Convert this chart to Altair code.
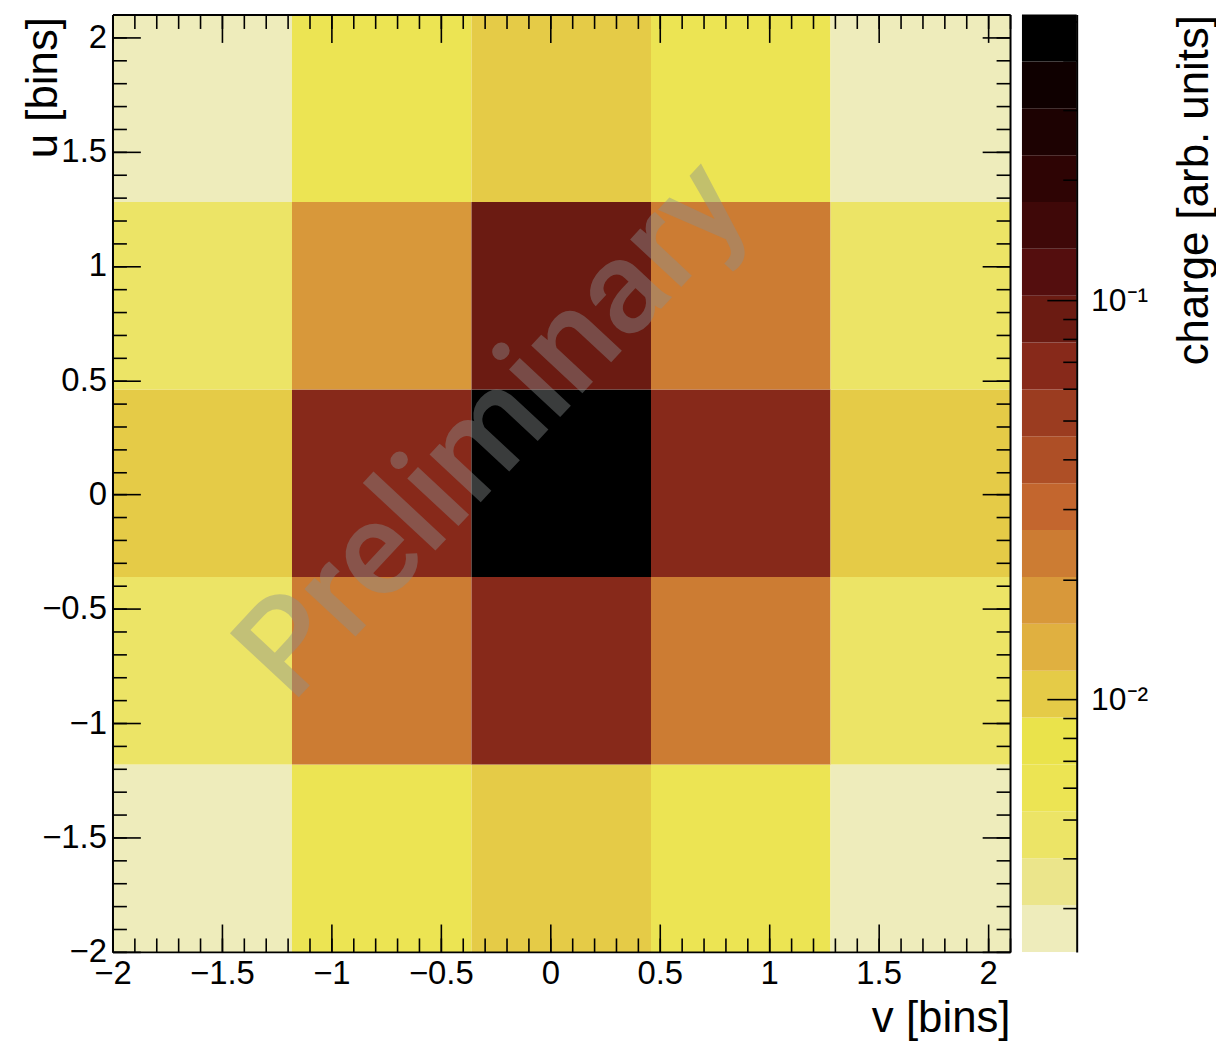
import altair as alt
import numpy as np
import pandas as pd

# ---------------- data ----------------
v_edges = [-2.0, -1.18, -0.36, 0.46, 1.28, 2.1]
u_edges = [-2.0, -1.18, -0.36, 0.46, 1.28, 2.1]
# charge[row][col]: rows = u bins (low -> high), cols = v bins (low -> high)
charge_rows = [
    [0.00267, 0.0060, 0.0103, 0.0060, 0.00267],
    [0.00458, 0.0232, 0.0686, 0.0232, 0.00458],
    [0.0103, 0.0686, 0.456, 0.0686, 0.0103],
    [0.00458, 0.0177, 0.090, 0.0232, 0.00458],
    [0.00267, 0.0060, 0.0103, 0.0060, 0.00267],
]
x_major = [-2, -1.5, -1, -0.5, 0, 0.5, 1, 1.5, 2]
x_minor = [round(-2.0 + 0.1 * i, 1) for i in range(42)]
y_major = [-2, -1.5, -1, -0.5, 0, 0.5, 1, 1.5, 2]
y_minor = [round(-2.0 + 0.1 * i, 1) for i in range(42)]
z_min, z_max, n_contours = 0.00233, 0.52, 20
z_major = [0.01, 0.1]
z_minor = [0.003, 0.004, 0.005, 0.006, 0.007, 0.008, 0.009,
           0.02, 0.03, 0.04, 0.05, 0.06, 0.07, 0.08, 0.09,
           0.2, 0.3, 0.4, 0.5]
wm_text = ["Preliminary"]
wm_v = [-0.127]
wm_u = [0.163]

palette = ["#eeecbb", "#ebe58b", "#ece466", "#ece453", "#eae34b",
           "#e5cb47", "#e0b040", "#d8983a", "#cc7c33", "#c3662e",
           "#ae4f26", "#9b3c20", "#87291a", "#6b1b12", "#540e0e",
           "#3f0808", "#2e0404", "#1d0202", "#0f0000", "#000000"]

# ---------------- tables ----------------
rows = []
for i in range(5):
    for j in range(5):
        rows.append(dict(v_lo=v_edges[j], v_hi=v_edges[j + 1],
                         u_lo=u_edges[i], u_hi=u_edges[i + 1],
                         charge=charge_rows[i][j]))
df = pd.DataFrame(rows)

lmin, lmax = np.log10(z_min), np.log10(z_max)
step = (lmax - lmin) / n_contours
levels = [float(10 ** (lmin + step * k)) for k in range(n_contours + 1)]
bands = pd.DataFrame(dict(lo=levels[:-1], hi=levels[1:],
                          charge=[float(10 ** (lmin + step * (k + 0.5))) for k in range(n_contours)],
                          b0=[0] * n_contours, b1=[1] * n_contours))
wm = pd.DataFrame(dict(text=wm_text, v=wm_v, u=wm_u))

# ---------------- styling ----------------
FONT = "Liberation Sans"
W, H, CW = 902, 942, 55

xs = alt.Scale(domain=[-2.0, 2.1], nice=False, zero=False)
ys = alt.Scale(domain=[-2.0, 2.1], nice=False, zero=False)
zs = alt.Scale(type="log", domain=[z_min, z_max], nice=False)
bs = alt.Scale(domain=[0, 1], nice=False, zero=False)
cs = alt.Scale(type="threshold", domain=levels[1:-1], range=palette)


def tick_axis(orient, offset, values, size, domain=False):
    return alt.Axis(orient=orient, offset=offset, values=values, tickSize=size,
                    labels=False, title=None, grid=False, domain=domain,
                    ticks=True, tickColor="black", tickWidth=1.6,
                    domainColor="black", domainWidth=2, zindex=3)


# main heatmap
heat = alt.Chart(df).mark_rect().encode(
    x=alt.X("v_lo:Q", scale=xs, axis=alt.Axis(
        orient="bottom", values=x_major, format="~g", labelFont=FONT,
        labelFontSize=33, labelColor="black", labelPadding=6,
        labelFlush=False, labelOverlap=False, ticks=False, tickSize=0,
        domain=True, domainColor="black", domainWidth=2, grid=False,
        title="v [bins]", titleFont=FONT, titleFontSize=44,
        titleFontWeight="normal", titleColor="black", titleAlign="right",
        titleAnchor="end", titleX=W, titleY=80, titleBaseline="alphabetic",
        zindex=3)),
    x2="v_hi:Q",
    y=alt.Y("u_lo:Q", scale=ys, axis=alt.Axis(
        orient="left", values=y_major, format="~g", labelFont=FONT,
        labelFontSize=33, labelColor="black", labelPadding=6,
        labelFlush=False, labelOverlap=False, ticks=False, tickSize=0,
        domain=True, domainColor="black", domainWidth=2, grid=False,
        title="u [bins]", titleFont=FONT, titleFontSize=44,
        titleFontWeight="normal", titleColor="black", titleAngle=270,
        titleAlign="right", titleBaseline="top", titleX=-91, titleY=2,
        zindex=3)),
    y2="u_hi:Q",
    color=alt.Color("charge:Q", scale=cs, legend=None),
)

ticks_layers = []
for xo, yo, xv, yv, size, dom in [
    ("top", "right", x_major, y_major, 28, False),
    ("top", "right", x_minor, y_minor, 14, False),
    ("bottom", "left", x_major, y_major, 28, True),
    ("bottom", "left", x_minor, y_minor, 14, False),
]:
    ticks_layers.append(
        alt.Chart(df).mark_point(opacity=0).encode(
            x=alt.X("v_lo:Q", scale=xs, axis=tick_axis(xo, -H, xv, size, dom)),
            y=alt.Y("u_lo:Q", scale=ys, axis=tick_axis(yo, -W, yv, size, dom)),
        )
    )

watermark = alt.Chart(wm).mark_text(
    font="Roboto", fontSize=133, fontWeight=500, angle=313, align="center",
    baseline="alphabetic", color="#8a8f90", opacity=0.42,
).encode(
    x=alt.X("v:Q", scale=xs, axis=None),
    y=alt.Y("u:Q", scale=ys, axis=None),
    text="text:N",
)

main = alt.layer(heat, *ticks_layers, watermark).resolve_axis(
    x="independent", y="independent").properties(width=W, height=H)

# colour bar
cbar = alt.Chart(bands).mark_rect().encode(
    x=alt.X("b0:Q", scale=bs, axis=None), x2="b1:Q",
    y=alt.Y("lo:Q", scale=zs, axis=alt.Axis(
        orient="right", values=z_major,
        labelExpr="datum.value < 0.05 ? '10⁻²' : '10⁻¹'",
        labelFont=FONT, labelFontSize=32, labelColor="black",
        labelPadding=14, labelOverlap=False, labelFlush=False,
        ticks=False, tickSize=0, domain=True, domainColor="black",
        domainWidth=2, grid=False, title="charge [arb. units]",
        titleFont=FONT, titleFontSize=44, titleFontWeight="normal",
        titleColor="black", titleAngle=270, titleAlign="right",
        titleBaseline="top", titleX=96, titleY=0, zindex=3)),
    y2="hi:Q",
    color=alt.Color("charge:Q", scale=cs, legend=None),
)
cbar_ticks = [
    alt.Chart(bands).mark_point(opacity=0).encode(
        x=alt.X("b0:Q", scale=bs, axis=None),
        y=alt.Y("charge:Q", scale=zs, axis=tick_axis("left", -CW, vals, size))
    )
    for vals, size in [(z_major, 30), (z_minor, 14)]
]
colorbar = alt.layer(cbar, *cbar_ticks).resolve_axis(y="independent").properties(
    width=CW, height=H)

chart = alt.hconcat(main, colorbar, spacing=8).resolve_scale(
    x="independent", y="independent", color="shared"
).properties(
    padding={"left": 14, "top": 3, "right": 0, "bottom": 0},
    background="white",
).configure_view(strokeWidth=0)

chart.save("out.html", embed_options={"renderer": "svg", "actions": False})
